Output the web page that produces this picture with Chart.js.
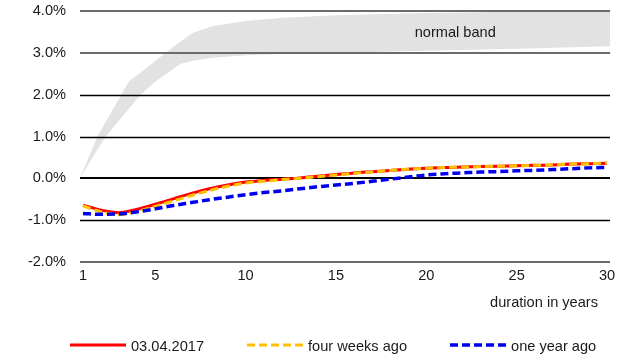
<!DOCTYPE html>
<html>
<head>
<meta charset="utf-8">
<script src="https://cdn.jsdelivr.net/npm/chart.js@4/dist/chart.umd.min.js"></script>
<style>
  html, body { margin: 0; padding: 0; background: #fff; }
  canvas { display: block; }
</style>
</head>
<body>
<canvas id="curve" width="624" height="356"></canvas>
<script>
// Yield curve by residual maturity (years), in percent
const maturities = [1, 2, 3, 4, 5, 6, 7, 8, 9, 10, 11, 12, 13, 14, 15,
                    16, 17, 18, 19, 20, 21, 22, 23, 24, 25, 26, 27, 28, 29, 30];
const yieldsCurrent = [-0.64, -0.76, -0.82, -0.74, -0.62, -0.49, -0.36, -0.25, -0.16, -0.09,
                       -0.05, -0.02, 0.01, 0.05, 0.09, 0.13, 0.16, 0.19, 0.22, 0.24,
                       0.26, 0.27, 0.28, 0.29, 0.30, 0.31, 0.32, 0.34, 0.35, 0.36];
const yieldsFourWeeks = [-0.66, -0.80, -0.87, -0.79, -0.67, -0.54, -0.41, -0.29, -0.19, -0.11,
                         -0.07, -0.03, 0.00, 0.04, 0.08, 0.12, 0.15, 0.19, 0.22, 0.24,
                         0.26, 0.27, 0.28, 0.29, 0.30, 0.31, 0.32, 0.34, 0.35, 0.37];
const yieldsOneYear = [-0.84, -0.86, -0.85, -0.80, -0.73, -0.65, -0.58, -0.51, -0.45, -0.39,
                       -0.34, -0.30, -0.25, -0.20, -0.16, -0.12, -0.07, -0.02, 0.03, 0.08,
                       0.11, 0.13, 0.15, 0.16, 0.18, 0.19, 0.21, 0.23, 0.25, 0.26];

// Normal band: lower and upper edge at the same maturities
const bandYears = [0.83, 1.8, 2.26, 3.55, 4.19, 5.02, 5.58, 6.4, 7.1, 8.2, 10, 12, 15, 20, 25, 30.3];
const bandLower = [0, 0.69, 1.0, 1.67, 2.0, 2.32, 2.49, 2.74, 2.81, 2.88, 2.94, 2.97, 3.0, 3.05, 3.10, 3.16];
const bandUpper = [0, 1.0, 1.35, 2.32, 2.53, 2.81, 3.0, 3.27, 3.48, 3.64, 3.76, 3.84, 3.90, 3.95, 3.98, 4.02];

const xTickValues = [1, 5, 10, 15, 20, 25, 30];
const yTickValues = [-2, -1, 0, 1, 2, 3, 4];
const seriesLabels = ['03.04.2017', 'four weeks ago', 'one year ago'];
const bandLabel = 'normal band';
const bandLabelAt = { x: 21.6, y: 3.37 };
const xAxisTitle = 'duration in years';

const FONT_FAMILY = '"Liberation Sans", Arial, Helvetica, sans-serif';
const FONT_SIZE = 14.6;
const TEXT_COLOR = '#1a1a1a';

Chart.defaults.font.family = FONT_FAMILY;
Chart.defaults.font.size = FONT_SIZE;
Chart.defaults.color = TEXT_COLOR;

const pts = (xs, ys) => xs.map((x, i) => ({ x: x, y: ys[i] }));

function gridStyle(v) {
  if (v === 0) return { color: '#000000', width: 2 };
  if (v === 4 || v === 3 || v === -2) return { color: '#6b6b6b', width: 2 };
  return { color: '#000000', width: 1.5 };
}

// Horizontal grid lines, painted right after the band so they sit on top of it
const gridOverBand = {
  id: 'gridOverBand',
  afterDatasetDraw(chart, args) {
    if (chart.data.datasets[args.index].id !== 'bandUpper') return;
    const { ctx, chartArea } = chart;
    const y = chart.scales.y;
    ctx.save();
    y.ticks.forEach(t => {
      const s = gridStyle(t.value);
      const py = Math.round(y.getPixelForValue(t.value)) + (s.width % 2 ? 0.5 : 0);
      ctx.beginPath();
      ctx.strokeStyle = s.color;
      ctx.lineWidth = s.width;
      ctx.moveTo(chartArea.left, py);
      ctx.lineTo(chartArea.right, py);
      ctx.stroke();
    });
    ctx.restore();
  }
};

// Band label, axis title and the line legend below the plot
const chartTexts = {
  id: 'chartTexts',
  afterDraw(chart) {
    const { ctx, chartArea } = chart;
    const xs = chart.scales.x, ys = chart.scales.y;
    ctx.save();
    ctx.font = FONT_SIZE + 'px ' + FONT_FAMILY;
    ctx.fillStyle = TEXT_COLOR;
    ctx.textBaseline = 'alphabetic';

    ctx.textAlign = 'center';
    ctx.fillText(bandLabel, xs.getPixelForValue(bandLabelAt.x), ys.getPixelForValue(bandLabelAt.y));

    ctx.textAlign = 'right';
    ctx.fillText(xAxisTitle, chartArea.right - 12, 307);

    // legend
    const lineLen = 56, textGap = 5, itemGap = 43, legendY = 345;
    let x = 70;
    ctx.textAlign = 'left';
    chart.data.datasets.forEach(ds => {
      if (!ds.inLegend) return;
      ctx.save();
      ctx.beginPath();
      ctx.strokeStyle = ds.borderColor;
      ctx.lineWidth = ds.borderWidth;
      ctx.setLineDash(ds.borderDash || []);
      ctx.lineCap = 'butt';
      ctx.moveTo(x, legendY);
      ctx.lineTo(x + lineLen, legendY);
      ctx.stroke();
      ctx.restore();
      const tx = x + lineLen + textGap;
      ctx.fillText(ds.label, tx, 350.5);
      x = tx + ctx.measureText(ds.label).width + itemGap;
    });
    ctx.restore();
  }
};

new Chart(document.getElementById('curve'), {
  type: 'line',
  data: {
    datasets: [
      {
        id: 'bandLower', label: 'band lower', data: pts(bandYears, bandLower),
        borderWidth: 0, borderColor: 'rgba(0,0,0,0)', pointRadius: 0, fill: false,
        tension: 0, order: 10
      },
      {
        id: 'bandUpper', label: 'band upper', data: pts(bandYears, bandUpper),
        borderWidth: 0, borderColor: 'rgba(0,0,0,0)', backgroundColor: '#e2e2e2',
        pointRadius: 0, fill: '-1', tension: 0, order: 9
      },
      {
        label: seriesLabels[0], inLegend: true, data: pts(maturities, yieldsCurrent),
        borderColor: '#ff0000', borderWidth: 3, pointRadius: 0, fill: false,
        cubicInterpolationMode: 'monotone', order: 3
      },
      {
        label: seriesLabels[1], inLegend: true, data: pts(maturities, yieldsFourWeeks),
        borderColor: '#ffc000', borderWidth: 3, borderDash: [8, 4], pointRadius: 0, fill: false,
        cubicInterpolationMode: 'monotone', order: 2
      },
      {
        label: seriesLabels[2], inLegend: true, data: pts(maturities, yieldsOneYear),
        borderColor: '#0000ee', borderWidth: 3.5, borderDash: [8, 4], pointRadius: 0, fill: false,
        cubicInterpolationMode: 'monotone', order: 1
      }
    ]
  },
  options: {
    responsive: false,
    animation: false,
    devicePixelRatio: 1,
    layout: { padding: { top: 11, right: 14, left: 0, bottom: 0 } },
    plugins: {
      legend: { display: false },
      tooltip: { enabled: false },
      filler: { propagate: false }
    },
    scales: {
      x: {
        type: 'linear',
        min: 0.834,
        max: 30.166,
        afterBuildTicks: s => { s.ticks = xTickValues.map(v => ({ value: v })); },
        afterFit: s => { s.height = 94; s.paddingLeft = 0; s.paddingRight = 0; },
        grid: { display: false, drawTicks: false },
        border: { display: false },
        ticks: {
          padding: 5,
          autoSkip: false,
          maxRotation: 0,
          callback: v => String(v)
        }
      },
      y: {
        min: -2,
        max: 4,
        afterBuildTicks: s => { s.ticks = yTickValues.map(v => ({ value: v })); },
        afterFit: s => { s.width = 80; s.paddingTop = 0; s.paddingBottom = 0; },
        grid: { display: false, drawTicks: false },
        border: { display: false },
        ticks: {
          padding: 14,
          callback: v => v.toFixed(1) + '%'
        }
      }
    }
  },
  plugins: [gridOverBand, chartTexts]
});
</script>
</body>
</html>
